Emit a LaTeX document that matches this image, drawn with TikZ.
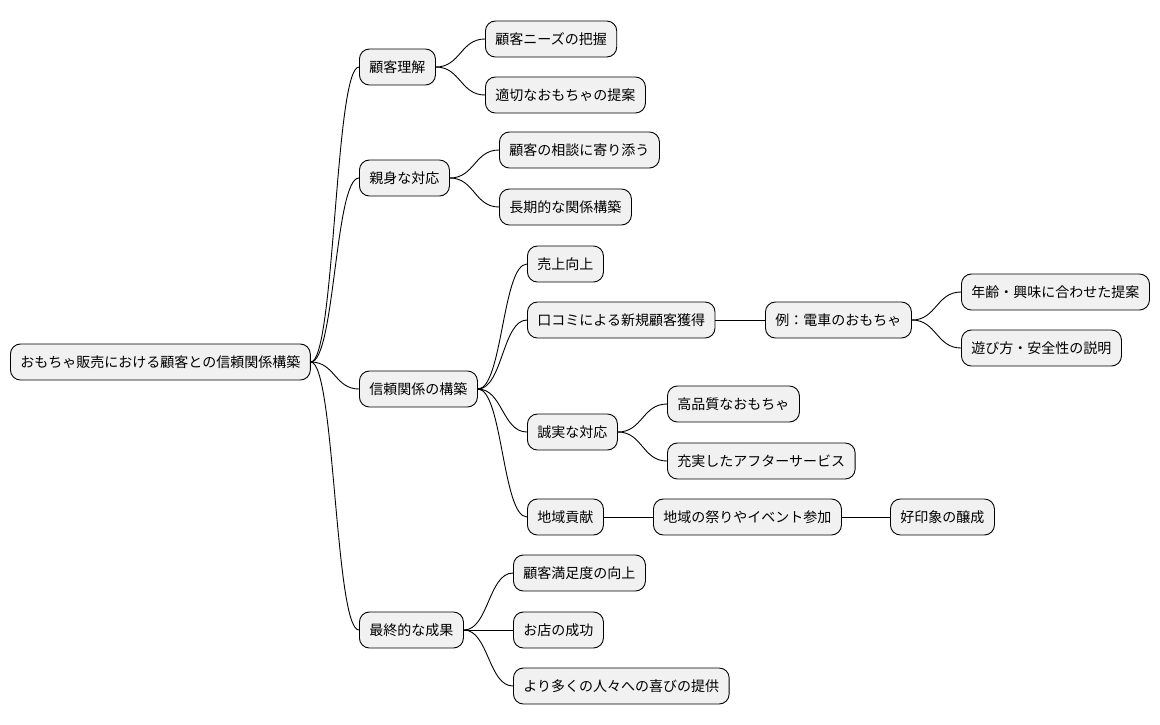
\documentclass[tikz,border=0pt]{standalone}
\usepackage{fontspec}
\setmainfont{Noto Sans CJK JP}
\usetikzlibrary{calc}
\definecolor{boxfill}{HTML}{F1F1F1}

\begin{document}
\begin{tikzpicture}[
  x=1pt,y=-1pt,
  line width=0.9pt,
  every node/.style={font=\fontsize{14}{16}\selectfont},
  topic/.style={draw,fill=boxfill,rounded corners=10pt,anchor=west,
    inner xsep=10pt,inner ysep=0pt,minimum height=36pt},
  link/.style={line width=0.8pt,
    to path={let \p1=(\tikztostart), \p2=(\tikztotarget) in
      .. controls (\x1/2+\x2/2,\y1) and (\x1/2+\x2/2,\y2) .. (\tikztotarget)}}
]

\useasboundingbox (0,0) rectangle (1160,724);

% ==================================================
% 中心
% ==================================================
\node[topic] (root) at (10,362) {おもちゃ販売における顧客との信頼関係構築};

% ==================================================
% 第一階層
% ==================================================
\node[topic] (understand) at (359,67)  {顧客理解};
\node[topic] (care)       at (359,178) {親身な対応};
\node[topic] (trust)      at (359,389) {信頼関係の構築};
\node[topic] (result)     at (359,630) {最終的な成果};

% 顧客理解
\node[topic] (needs)   at (485,39) {顧客ニーズの把握};
\node[topic] (propose) at (485,95) {適切なおもちゃの提案};

% 親身な対応
\node[topic] (consult)  at (499,150) {顧客の相談に寄り添う};
\node[topic] (longterm) at (499,207) {長期的な関係構築};

% 信頼関係の構築
\node[topic] (sales)  at (527,264) {売上向上};
\node[topic] (word)   at (527,320) {口コミによる新規顧客獲得};
\node[topic] (honest) at (527,432) {誠実な対応};
\node[topic] (local)  at (527,517) {地域貢献};

\node[topic] (train)  at (765,320) {例：電車のおもちゃ};
\node[topic] (age)    at (961,292) {年齢・興味に合わせた提案};
\node[topic] (safety) at (961,348) {遊び方・安全性の説明};

\node[topic] (quality) at (667,404) {高品質なおもちゃ};
\node[topic] (service) at (667,461) {充実したアフターサービス};

\node[topic] (event)      at (653,517) {地域の祭りやイベント参加};
\node[topic] (impression) at (890,517) {好印象の醸成};

% 最終的な成果
\node[topic] (satisfy) at (513,573) {顧客満足度の向上};
\node[topic] (success) at (513,630) {お店の成功};
\node[topic] (joy)     at (513,686) {より多くの人々への喜びの提供};

% ==================================================
% 枝
% ==================================================
\foreach \c in {understand,care,trust,result}{
  \draw (root.east) to[link] (\c.west);
}
\foreach \c in {needs,propose}{
  \draw (understand.east) to[link] (\c.west);
}
\foreach \c in {consult,longterm}{
  \draw (care.east) to[link] (\c.west);
}
\foreach \c in {sales,word,honest,local}{
  \draw (trust.east) to[link] (\c.west);
}
\foreach \c in {age,safety}{
  \draw (train.east) to[link] (\c.west);
}
\foreach \c in {quality,service}{
  \draw (honest.east) to[link] (\c.west);
}
\foreach \c in {satisfy,success,joy}{
  \draw (result.east) to[link] (\c.west);
}
\draw (word.east) -- (train.west);
\draw (local.east) -- (event.west);
\draw (event.east) -- (impression.west);

\end{tikzpicture}
\end{document}
